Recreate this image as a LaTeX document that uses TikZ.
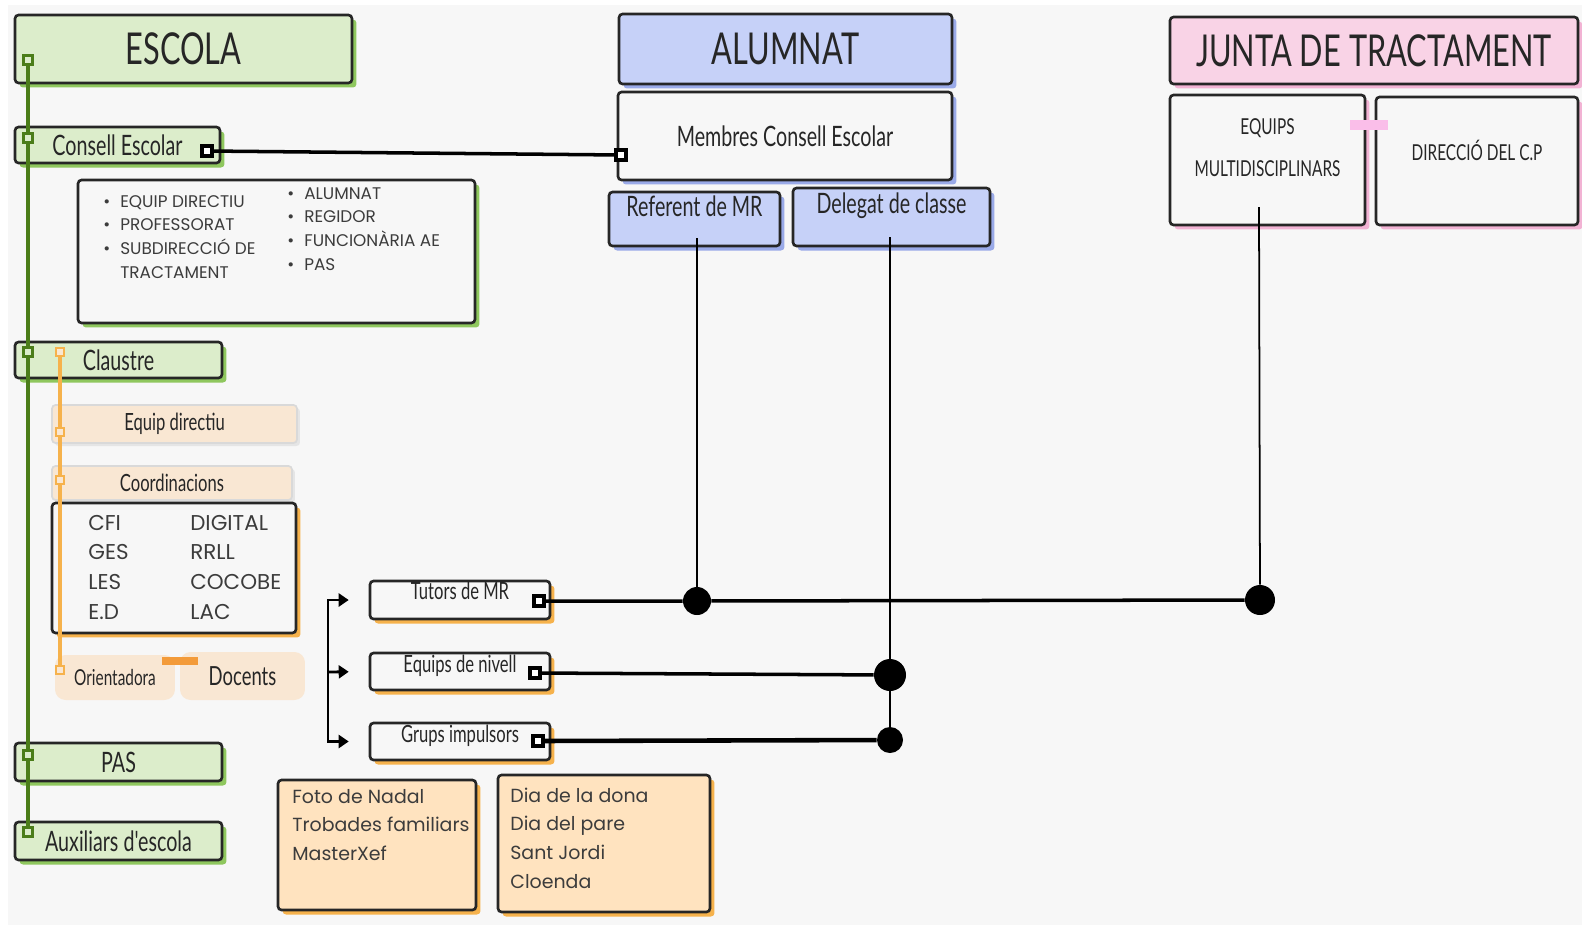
\documentclass[tikz,border=0pt]{standalone}
\usepackage{fontspec}
\setmainfont{Poppins}
\newfontfamily\handfont[FakeStretch=0.7]{Lato}
\usetikzlibrary{arrows.meta,shadows,positioning}

\definecolor{fons}{HTML}{F7F7F7}
\definecolor{tinta}{HTML}{262626}
\definecolor{verd}{HTML}{DCEDCB}
\definecolor{verdOmbra}{HTML}{8FC75E}
\definecolor{verdLinia}{HTML}{4B7D19}
\definecolor{blau}{HTML}{C6D1F8}
\definecolor{blauOmbra}{HTML}{9AAAE8}
\definecolor{rosa}{HTML}{F9D3E6}
\definecolor{rosaOmbra}{HTML}{F2B3D4}
\definecolor{preseg}{HTML}{F9E7D3}
\definecolor{taronjaClar}{HTML}{FFE3BF}
\definecolor{taronja}{HTML}{F6B24C}
\definecolor{taronjaFort}{HTML}{F39B3A}

\newcommand\ftitol{\handfont\fontsize{25}{27}\selectfont}
\newcommand\fmig{\handfont\fontsize{16}{18}\selectfont}
\newcommand\fpetit{\handfont\fontsize{13.5}{15}\selectfont}
\newcommand\fjunta{\handfont\fontsize{12.5}{24}\selectfont}
\newcommand\fllista[2]{\fontsize{#1}{#2}\selectfont}

\tikzset{
  caixa/.style={draw=tinta, line width=1.5pt, rounded corners=2pt, inner sep=0pt, align=center},
  ombra/.style={drop shadow={shadow xshift=0.09cm, shadow yshift=-0.09cm, fill=#1, opacity=1}},
  verdbox/.style={caixa, fill=verd, ombra=verdOmbra},
  blaubox/.style={caixa, fill=blau, ombra=blauOmbra},
  rosabox/.style={caixa, fill=rosa, ombra=rosaOmbra},
  blancbox/.style={caixa, fill=fons, ombra=#1},
  taronjabox/.style={caixa, fill=taronjaClar, ombra=taronja},
  presegbox/.style={draw=black!15, line width=1pt, rounded corners=2pt, fill=preseg, inner sep=0pt,
    drop shadow={shadow xshift=0.06cm, shadow yshift=-0.06cm, fill=black!10, opacity=1}},
  pastilla/.style={fill=preseg, rounded corners=6pt, inner sep=0pt},
  llista/.style={anchor=base west, inner sep=0pt, text=tinta!90},
  gsq/.style={draw=verdLinia, fill=verd, line width=1.6pt, minimum size=0.17cm, inner sep=0pt},
  osq/.style={draw=taronja, fill=preseg, line width=1.4pt, minimum size=0.17cm, inner sep=0pt},
  bsq/.style={draw=black, fill=white, line width=1.8pt, minimum size=0.2cm, inner sep=0pt},
  punt/.style={circle, fill=black, inner sep=0pt, minimum size=#1},
  glinia/.style={draw=verdLinia, line width=2pt},
  olinia/.style={draw=taronja, line width=2pt},
  connexio/.style={draw=black, line width=2pt},
  vlinia/.style={draw=black, line width=1pt},
  fletxa/.style={draw=black, line width=1.6pt, -{Triangle[length=0.2cm,width=0.26cm]}, shorten >=0.4cm}
}

\begin{document}
\begin{tikzpicture}[x=0.02cm, y=-0.02cm, text=tinta]
  \useasboundingbox (0,0) rectangle (1582,934);
  \fill[fons] (8,5) rectangle (1582,925);

  % ESCOLA
  \node[verdbox, minimum width=6.74cm, minimum height=1.36cm, font=\ftitol] (escola) at (183.5,49) {ESCOLA};
  \node[verdbox, minimum width=4.1cm, minimum height=0.72cm, font=\fmig] (consell) at (117.5,145) {Consell Escolar};
  \node[blancbox=verdOmbra, minimum width=7.94cm, minimum height=2.86cm] (llistaCE) at (276.5,251.5) {};
  \node[llista, font=\fllista{9.6}{13.6}] (ceA) at (103,207) {\begin{tabular}[t]{@{}l@{\hspace{0.2cm}}l@{}}
    \textbullet & EQUIP DIRECTIU\\ \textbullet & PROFESSORAT\\ \textbullet & SUBDIRECCIÓ DE\\ & TRACTAMENT\end{tabular}};
  \node[llista, font=\fllista{9.6}{13.6}] (ceB) at (287,199) {\begin{tabular}[t]{@{}l@{\hspace{0.2cm}}l@{}}
    \textbullet & ALUMNAT\\ \textbullet & REGIDOR\\ \textbullet & FUNCIONÀRIA AE\\ \textbullet & PAS\end{tabular}};
  \node[verdbox, minimum width=4.14cm, minimum height=0.72cm, font=\fmig] (claustre) at (118.5,360) {Claustre};
  \node[presegbox, minimum width=4.9cm, minimum height=0.76cm, font=\fpetit] (equipdir) at (174.5,424) {Equip directiu};
  \node[presegbox, minimum width=4.8cm, minimum height=0.68cm, font=\fpetit] (coord) at (172,483) {Coordinacions};
  \node[blancbox=taronja, minimum width=4.88cm, minimum height=2.6cm] (llistaCo) at (174,568) {};
  \node[llista, font=\fllista{12.2}{17}] (coTxt) at (88,530) {\begin{tabular}[t]{@{}p{2.04cm}@{}l@{}}
    CFI & DIGITAL\\ GES & RRLL\\ LES & COCOBE\\ E.D & LAC\end{tabular}};
  \node[pastilla, minimum width=2.4cm, minimum height=0.9cm, font=\handfont\fontsize{12.5}{14}\selectfont] (orientadora) at (115,677.5) {Orientadora};
  \node[pastilla, minimum width=2.5cm, minimum height=0.96cm, font=\handfont\fontsize{15}{17}\selectfont] (docents) at (242.5,676) {Docents};
  \fill[taronjaFort] (162,657) rectangle (198,665);
  \node[verdbox, minimum width=4.14cm, minimum height=0.76cm, font=\fmig] (pas) at (118.5,762) {PAS};
  \node[verdbox, minimum width=4.14cm, minimum height=0.76cm, font=\fmig] (auxiliars) at (118.5,841) {Auxiliars d'escola};

  % comissions
  \node[blancbox=taronja, minimum width=3.6cm, minimum height=0.76cm, text depth=0.35cm, font=\fpetit] (tutors) at (460,600) {Tutors de MR};
  \node[blancbox=taronja, minimum width=3.6cm, minimum height=0.74cm, text depth=0.3cm, font=\fpetit] (equipsniv) at (460,671.5) {Equips de nivell};
  \node[blancbox=taronja, minimum width=3.6cm, minimum height=0.74cm, text depth=0.3cm, font=\fpetit] (grups) at (460,741.5) {Grups impulsors};
  \node[taronjabox, minimum width=3.96cm, minimum height=2.6cm] (foto) at (377,845) {};
  \node[llista, font=\fllista{10.8}{16.4}] (fotoTxt) at (292,803) {\begin{tabular}[t]{@{}l@{}}
    Foto de Nadal\\ Trobades familiars\\ MasterXef\end{tabular}};
  \node[taronjabox, minimum width=4.24cm, minimum height=2.74cm] (dia) at (604,843.5) {};
  \node[llista, font=\fllista{10.8}{16.4}] (diaTxt) at (510,802) {\begin{tabular}[t]{@{}l@{}}
    Dia de la dona\\ Dia del pare\\ Sant Jordi\\ Cloenda\end{tabular}};

  % ALUMNAT
  \node[blaubox, minimum width=6.66cm, minimum height=1.4cm, font=\ftitol] (alumnat) at (785.5,49) {ALUMNAT};
  \node[blancbox=blauOmbra, minimum width=6.68cm, minimum height=1.76cm, font=\fmig] (membres) at (785,136) {Membres Consell Escolar};
  \node[blaubox, minimum width=3.42cm, minimum height=1.08cm, text depth=0.5cm, font=\fmig] (referent) at (694.5,219) {Referent de MR};
  \node[blaubox, minimum width=3.94cm, minimum height=1.16cm, text depth=0.55cm, font=\fmig] (delegat) at (891.5,217) {Delegat de classe};

  % JUNTA DE TRACTAMENT
  \node[rosabox, minimum width=8.16cm, minimum height=1.34cm, font=\ftitol] (junta) at (1374,50.5) {JUNTA DE TRACTAMENT};
  \node[blancbox=rosaOmbra, minimum width=3.9cm, minimum height=2.6cm, text depth=0.5cm, font=\fjunta] (equipsMD) at (1267.5,160) {EQUIPS\\MULTIDISCIPLINARS};
  \node[blancbox=rosaOmbra, minimum width=4.04cm, minimum height=2.56cm, text depth=0.44cm, font=\fjunta] (direccio) at (1477,161) {DIRECCIÓ DEL C.P};
  \fill[rosa!90!magenta] (1350,120) rectangle (1388,130);

  % marques
  \node[gsq] (g1) at (28,60) {};
  \node[gsq] (g2) at (28,138) {};
  \node[gsq] (g3) at (28,352) {};
  \node[gsq] (g4) at (28,755) {};
  \node[gsq] (g5) at (28,832) {};
  \node[osq] (o1) at (60,352) {};
  \node[osq] (o2) at (60,432) {};
  \node[osq] (o3) at (60,480) {};
  \node[osq] (o4) at (60,670) {};
  \node[bsq] (sqCE) at (207,151) {};
  \node[bsq] (sqMB) at (621,155) {};
  \node[bsq] (sqTut) at (539,601) {};
  \node[bsq] (sqNiv) at (535,673) {};
  \node[bsq] (sqGrp) at (538,741) {};
  \node[punt=0.56cm] (dRef) at (697,601) {};
  \node[punt=0.6cm] (dJun) at (1260,600) {};
  \node[punt=0.64cm] (dNiv) at (890,675) {};
  \node[punt=0.52cm] (dGrp) at (890,740) {};
  \coordinate (refEnd) at (697,238);
  \coordinate (delEnd) at (890,237);
  \coordinate (junEnd) at (1259,207);
  \coordinate (brk) at (328,672);

  % connexions
  \foreach \a/\b in {g1/g2,g2/g3,g3/g4,g4/g5}
    \draw[glinia] (\a) -- (\b);
  \foreach \a/\b in {o1/o2,o2/o3,o3/o4}
    \draw[olinia] (\a) -- (\b);
  \draw[connexio] (sqCE) -- (sqMB);
  \draw[vlinia] (refEnd) -- (dRef);
  \draw[vlinia] (delEnd) -- (dNiv) -- (dGrp);
  \draw[vlinia] (junEnd) -- (dJun);
  \draw[connexio] (sqTut) -- (dRef) -- (dJun);
  \draw[connexio] (sqNiv) -- (dNiv);
  \draw[connexio, line width=2.6pt] (sqGrp) -- (dGrp);
  \draw[fletxa] (brk) |- (tutors.west);
  \draw[fletxa] (brk) -- (equipsniv.west);
  \draw[fletxa] (brk) |- (grups.west);
\end{tikzpicture}
\end{document}
